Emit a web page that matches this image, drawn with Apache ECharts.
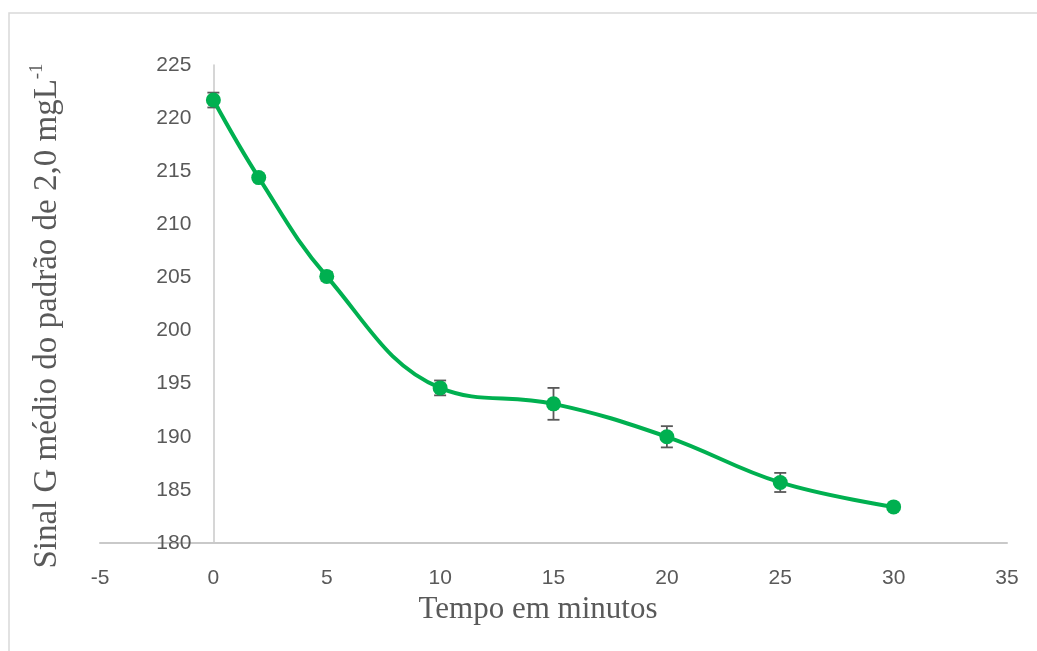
<!DOCTYPE html>
<html>
<head>
<meta charset="utf-8">
<script src="https://cdn.jsdelivr.net/npm/echarts@6/dist/echarts.min.js"></script>
<style>
html,body{margin:0;padding:0;background:#fff;}
#chart{width:1037px;height:651px;}
</style>
</head>
<body>
<div id="chart"></div>
<script>
// Data
const times = [0, 2, 5, 10, 15, 20, 25, 30];
const signal = [221.7, 214.4, 205.1, 194.6, 193.1, 190.0, 185.7, 183.4];
const errors = [0.7, 0.2, 0.4, 0.7, 1.5, 1.0, 0.9, 0.3];
const xTitle = 'Tempo em minutos';
const yTitle = 'Sinal G médio do padrão de 2,0 mgL';
const yTitleSup = '-1';

const lineData = times.map((t, i) => [t, signal[i]]);
const errData = times.map((t, i) => [t, signal[i] - errors[i], signal[i] + errors[i]]);

const chart = echarts.init(document.getElementById('chart'), null, {renderer: 'canvas'});
const textColor = '#595959';

chart.setOption({
  animation: false,
  backgroundColor: '#fff',
  graphic: [{
    type: 'rect',
    shape: {x: 9, y: 13, width: 1200, height: 800},
    style: {fill: 'none', stroke: '#d9d9d9', lineWidth: 1.5},
    silent: true,
    z: -10
  }],
  grid: {left: 100, right: 30, top: 65, bottom: 108, containLabel: false, outerBoundsMode: 'none'},
  xAxis: {
    type: 'value',
    min: -5, max: 35, interval: 5,
    name: xTitle,
    nameLocation: 'middle',
    nameGap: 40,
    nameTextStyle: {fontFamily: 'Liberation Serif', fontSize: 31, color: textColor, padding: [0, 31, 0, 0]},
    axisLine: {onZero: false, lineStyle: {color: '#c9c9c9', width: 2}},
    axisTick: {show: false},
    splitLine: {show: false},
    axisLabel: {fontFamily: 'Liberation Sans', fontSize: 21, color: textColor, margin: 25}
  },
  yAxis: {
    type: 'value',
    min: 180, max: 225, interval: 5,
    offset: -113.4,
    name: '{a|' + yTitle + '}{s|' + yTitleSup + '}',
    nameLocation: 'middle',
    nameGap: 150,
    nameTextStyle: {
      color: textColor,
      padding: [0, 24, 0, 0],
      rich: {
        a: {fontFamily: 'Liberation Serif', fontSize: 33, color: textColor, verticalAlign: 'bottom', lineHeight: 36},
        s: {fontFamily: 'Liberation Serif', fontSize: 19, color: textColor, verticalAlign: 'top', lineHeight: 36}
      }
    },
    axisLine: {show: true, onZero: false, lineStyle: {color: '#c9c9c9', width: 1.5}},
    axisTick: {show: false},
    splitLine: {show: false},
    axisLabel: {fontFamily: 'Liberation Sans', fontSize: 21, color: textColor, margin: 22}
  },
  series: [
    {
      type: 'custom',
      z: 1,
      data: errData,
      renderItem: function (params, api) {
        const x = api.value(0);
        const lo = api.coord([x, api.value(1)]);
        const hi = api.coord([x, api.value(2)]);
        const hw = 6;
        const style = {stroke: '#595959', lineWidth: 1.8};
        return {
          type: 'group',
          children: [
            {type: 'line', shape: {x1: lo[0], y1: lo[1], x2: hi[0], y2: hi[1]}, style: style},
            {type: 'line', shape: {x1: lo[0] - hw, y1: lo[1], x2: lo[0] + hw, y2: lo[1]}, style: style},
            {type: 'line', shape: {x1: hi[0] - hw, y1: hi[1], x2: hi[0] + hw, y2: hi[1]}, style: style}
          ]
        };
      },
      silent: true
    },
    {
      type: 'line',
      z: 3,
      data: lineData,
      smooth: 0.4,
      symbol: 'circle',
      symbolSize: 15,
      lineStyle: {color: '#00b050', width: 4},
      itemStyle: {color: '#00b050'}
    }
  ]
});
</script>
</body>
</html>
